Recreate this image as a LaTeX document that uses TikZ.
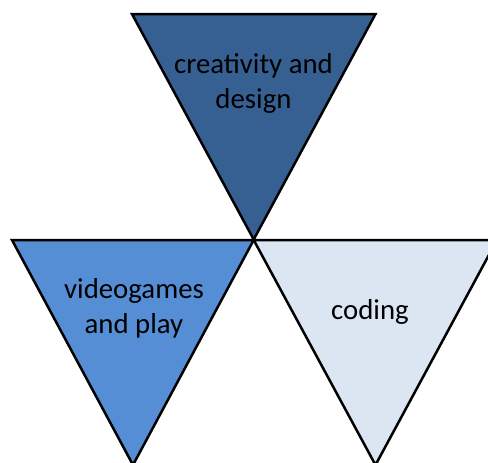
\documentclass[tikz,border=0pt]{standalone}
\usepackage{fontspec}
\setmainfont{Carlito}
\definecolor{darkblue}{RGB}{55,96,146}
\definecolor{midblue}{RGB}{85,142,213}
\definecolor{paleblue}{RGB}{220,230,242}
\tikzset{
  tri/.style={draw=black, line width=2.5pt, line join=miter},
  lbl/.style={align=center, inner sep=0pt, font=\fontsize{28.8}{35}\selectfont, text=black}
}
\begin{document}
\begin{tikzpicture}[x=1pt,y=-1pt]
\useasboundingbox (0,0) rectangle (488,463);
\clip (0,0) rectangle (488,463);
\fill[white] (0,0) rectangle (488,463);
\draw[tri, fill=darkblue] (132,14) -- (375.5,14) -- (253.7,239.5) -- cycle;
\draw[tri, fill=midblue] (12,240) -- (253.7,240) -- (133,465) -- cycle;
\draw[tri, fill=paleblue] (253.7,240) -- (497,240) -- (375.5,465) -- cycle;
\node[lbl] (cd) at (253.5,83) {creativity and\\design};
\node[lbl] (vp) at (134,308) {videogames\\and play};
\node[lbl] (co) at (370,312) {coding};
\end{tikzpicture}
\end{document}
